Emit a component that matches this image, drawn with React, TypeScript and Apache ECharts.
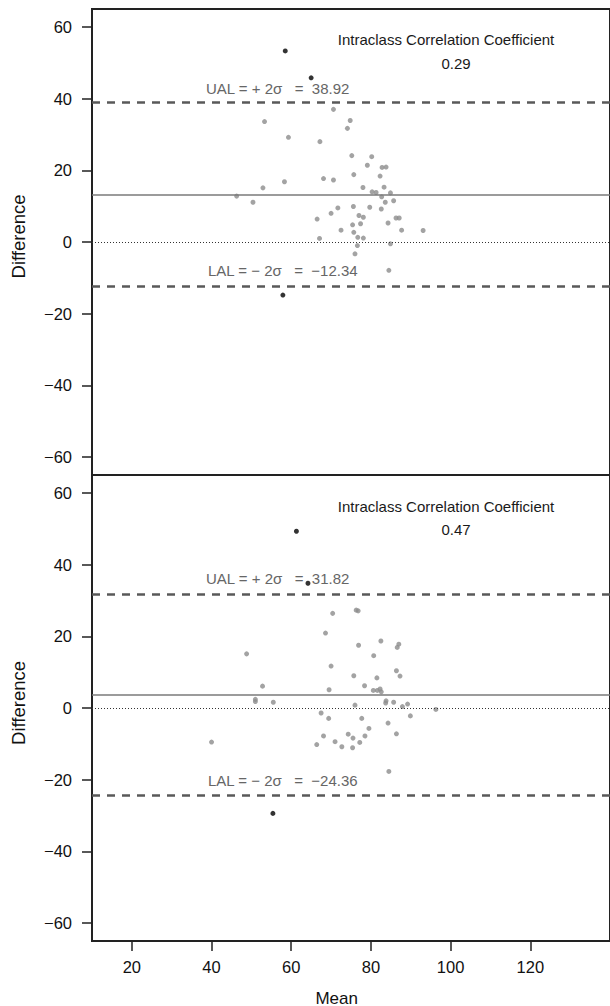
import React, { useEffect, useRef } from "react";
import * as echarts from "echarts";

const FONT = "'Liberation Sans', Arial, Helvetica, sans-serif";

const xTicks = [20, 40, 60, 80, 100, 120];
const yTicks = [-60, -40, -20, 0, 20, 40, 60];

const topGray: [number, number][] = [
  [70.6, 37.0], [53.3, 33.6], [74.8, 33.9], [74.1, 31.7], [59.3, 29.2], [67.2, 28.0],
  [75.2, 24.1], [80.2, 23.8], [79.1, 21.4], [82.8, 20.8], [83.8, 20.9], [75.7, 18.8],
  [82.3, 18.4], [68.1, 17.7], [70.6, 17.3], [58.3, 16.8], [52.9, 15.1], [78.0, 15.2],
  [83.3, 15.3], [80.3, 14.0], [81.3, 13.8], [84.9, 13.7], [46.3, 12.8], [82.7, 12.6],
  [50.4, 11.1], [83.6, 11.1], [85.7, 11.5], [71.7, 9.5], [75.6, 9.9], [79.7, 9.7],
  [82.6, 9.2], [70.0, 8.0], [66.5, 6.4], [77.0, 7.4], [78.1, 6.9], [86.3, 6.7],
  [87.1, 6.7], [84.3, 5.3], [75.4, 4.8], [77.4, 5.1], [72.5, 3.3], [87.7, 3.3],
  [93.1, 3.2], [75.7, 2.7], [67.1, 1.0], [76.7, 1.3], [78.1, 1.1], [76.6, -1.0],
  [84.9, -0.5], [76.0, -3.3], [84.5, -7.9],
];
const topBlack: [number, number][] = [[58.5, 53.3], [65.0, 45.8], [57.9, -14.8]];

const bottomGray: [number, number][] = [
  [70.4, 26.4], [76.3, 27.3], [76.8, 27.1], [68.6, 20.9], [48.8, 15.1], [76.9, 17.5],
  [82.5, 18.7], [87.0, 17.8], [86.6, 16.9], [80.7, 14.6], [70.0, 11.7], [86.4, 10.4],
  [87.3, 8.9], [75.7, 9.0], [81.5, 8.4], [52.8, 6.1], [78.4, 6.2], [69.5, 5.1],
  [80.6, 4.9], [81.6, 4.9], [82.3, 5.3], [82.6, 4.5], [51.0, 2.4], [51.0, 1.8],
  [55.5, 1.6], [83.8, 2.0], [83.7, 1.4], [85.7, 1.6], [76.0, 0.8], [87.9, 0.4],
  [89.2, 1.1], [96.3, -0.4], [67.5, -1.4], [89.9, -2.2], [69.4, -2.9], [77.7, -2.9],
  [84.3, -4.2], [79.5, -5.7], [86.4, -7.2], [68.1, -7.8], [74.3, -7.3], [78.5, -7.8],
  [75.5, -8.4], [71.0, -9.4], [77.2, -9.6], [40.0, -9.5], [66.4, -10.2], [72.7, -10.8],
  [75.4, -11.1], [84.5, -17.7],
];
const bottomBlack: [number, number][] = [[61.3, 49.3], [64.2, 34.8], [55.4, -29.4]];

const panelUAL = [38.92, 31.82];
const panelLAL = [-12.34, -24.36];
const panelBias = [13.29, 3.73];
const panelICC = ["0.29", "0.47"];

const fmtNum = (v: number) => (v < 0 ? "\u2212" + Math.abs(v) : String(v));
const fmtLim = (v: number) => (v < 0 ? "\u2212" + Math.abs(v).toFixed(2) : v.toFixed(2));

export default function App() {
  const ref = useRef<HTMLDivElement>(null);
  useEffect(() => {
    if (!ref.current) return;
    const chart = echarts.init(ref.current, undefined, { renderer: "svg" });
    const grids = [
      { left: 92, top: 9, width: 522, height: 466 },
      { left: 92, top: 475, width: 522, height: 466 },
    ];
    const grays = [topGray, bottomGray];
    const blacks = [topBlack, bottomBlack];

    const xAxis = grids.map((_, i) => ({
      type: "value",
      gridIndex: i,
      min: 10,
      max: 140,
      splitLine: { show: false },
      axisLine: { show: i === 1, onZero: false, lineStyle: { color: "#222", width: 2 } },
      axisTick: {
        show: i === 1,
        length: 10,
        customValues: xTicks,
        lineStyle: { color: "#222", width: 1.5 },
      },
      axisLabel: {
        show: i === 1,
        customValues: xTicks,
        margin: 17,
        fontSize: 16.5,
        color: "#111",
        fontFamily: FONT,
      },
    }));
    const yAxis = grids.map((_, i) => ({
      type: "value",
      gridIndex: i,
      min: -65,
      max: 65,
      splitLine: { show: false },
      axisLine: { show: true, onZero: false, lineStyle: { color: "#222", width: 2 } },
      axisTick: {
        show: true,
        length: 10,
        customValues: yTicks,
        lineStyle: { color: "#222", width: 1.5 },
      },
      axisLabel: {
        customValues: yTicks,
        margin: 20,
        fontSize: 16.5,
        color: "#111",
        fontFamily: FONT,
        formatter: (v: number) => fmtNum(v),
      },
    }));

    const series: any[] = [];
    grids.forEach((_, i) => {
      series.push({
        type: "scatter",
        xAxisIndex: i,
        yAxisIndex: i,
        data: grays[i],
        symbolSize: 5,
        itemStyle: { color: "#8c8c8c" },
        silent: true,
        markLine: {
          silent: true,
          symbol: ["none", "none"],
          label: { show: false },
          data: [
            { yAxis: panelUAL[i], lineStyle: { color: "#595959", width: 2.5, type: [8, 7] } },
            { yAxis: panelLAL[i], lineStyle: { color: "#595959", width: 2.5, type: [8, 7] } },
            { yAxis: panelBias[i], lineStyle: { color: "#7a7a7a", width: 1.5, type: "solid" } },
            { yAxis: 0, lineStyle: { color: "#333", width: 1, type: [1, 2] } },
          ],
        },
      });
      series.push({
        type: "scatter",
        xAxisIndex: i,
        yAxisIndex: i,
        data: blacks[i],
        symbolSize: 5,
        itemStyle: { color: "#000" },
        silent: true,
      });
    });

    const graphic: any[] = [];
    const offsets = [0, 466];
    const diffY = [236.5, 703];
    grids.forEach((_, i) => {
      const o = offsets[i];
      graphic.push({
        type: "text",
        x: 446,
        y: 39.5 + o + (i === 1 ? 1 : 0),
        style: {
          text: "Intraclass Correlation Coefficient",
          font: `15px ${FONT}`,
          fill: "#1a1a1a",
          align: "center",
          verticalAlign: "middle",
        },
      });
      graphic.push({
        type: "text",
        x: 456,
        y: 63.7 + o,
        style: {
          text: panelICC[i],
          font: `15px ${FONT}`,
          fill: "#1a1a1a",
          align: "center",
          verticalAlign: "middle",
        },
      });
      graphic.push({
        type: "text",
        x: 206,
        y: i === 0 ? 88.8 : 578.8,
        style: {
          text: "UAL = + 2\u03c3   =  " + fmtLim(panelUAL[i]),
          font: `15px ${FONT}`,
          fill: "#666",
          align: "left",
          verticalAlign: "middle",
        },
      });
      graphic.push({
        type: "text",
        x: 208,
        y: i === 0 ? 270.8 : 780.8,
        style: {
          text: "LAL = \u2212 2\u03c3   =  " + fmtLim(panelLAL[i]),
          font: `15px ${FONT}`,
          fill: "#666",
          align: "left",
          verticalAlign: "middle",
        },
      });
      graphic.push({
        type: "text",
        x: 18.5,
        y: diffY[i],
        rotation: Math.PI / 2,
        style: {
          text: "Difference",
          font: `18.5px ${FONT}`,
          fill: "#111",
          align: "center",
          verticalAlign: "middle",
        },
      });
    });
    graphic.push({
      type: "text",
      x: 336.7,
      y: 998,
      style: {
        text: "Mean",
        font: `17px ${FONT}`,
        fill: "#111",
        align: "center",
        verticalAlign: "middle",
      },
    });

    chart.setOption({
      animation: false,
      backgroundColor: "#fff",
      grid: grids.map((g) => ({ ...g, show: true, borderColor: "#222", borderWidth: 2 })),
      xAxis,
      yAxis,
      series,
      graphic,
    });
    return () => chart.dispose();
  }, []);
  return (
    <div
      ref={ref}
      style={{ position: "absolute", left: 0, top: 0, width: 610, height: 1006 }}
    />
  );
}
